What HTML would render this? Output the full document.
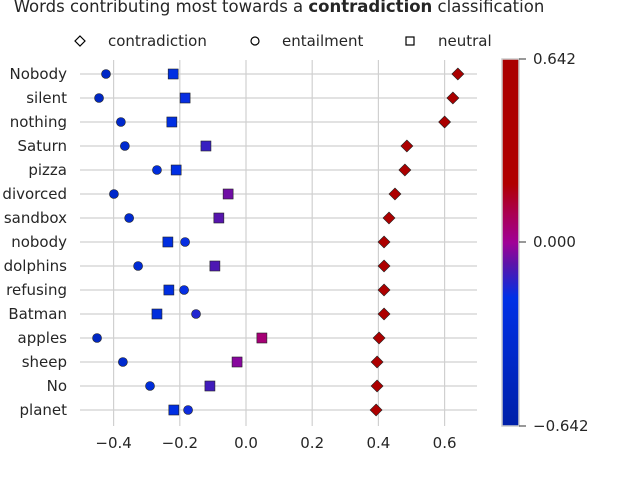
<!DOCTYPE html>
<html><head><meta charset="utf-8"><style>
body{margin:0;background:#fff}
svg{display:block;font-family:"DejaVu Sans","Liberation Sans",sans-serif}
</style></head><body>
<svg id="chart" width="640" height="480" viewBox="0 0 640 480">
<defs><linearGradient id="cmap" x1="0" y1="1" x2="0" y2="0">
<stop offset="0" stop-color="#0020a8"/><stop offset="0.35" stop-color="#0030e6"/>
<stop offset="0.44" stop-color="#5a14aa"/><stop offset="0.5" stop-color="#a00096"/>
<stop offset="0.58" stop-color="#aa0050"/><stop offset="0.66" stop-color="#b00000"/>
<stop offset="1" stop-color="#aa0000"/></linearGradient></defs>
<text x="279" y="12" text-anchor="middle" font-size="16.5" fill="#262626">Words contributing most towards a <tspan font-weight="bold">contradiction</tspan> classification</text>
<g id="legend" font-size="15" fill="#262626">
<g><path d="M80 36 L85 41 L80 46 L75 41Z" fill="#fff" stroke="#000" stroke-width="1.2"/><text x="108" y="46">contradiction</text></g>
<g><circle cx="255" cy="41" r="4" fill="#fff" stroke="#000" stroke-width="1.2"/><text x="282" y="46">entailment</text></g>
<g><rect x="406" y="37" width="8" height="8" fill="#fff" stroke="#000" stroke-width="1.2"/><text x="438" y="46">neutral</text></g>
</g>
<g id="grid"></g><g id="marks"></g><g id="axes" font-size="15" fill="#262626"></g>
<g>
<rect x="502" y="59" width="17" height="367" fill="url(#cmap)" stroke="#ccc" stroke-width="1.5"/>
<g font-size="15" fill="#262626" stroke="none">
<line x1="519" y1="59" x2="526" y2="59" stroke="#333"/><text x="533" y="64">0.642</text>
<line x1="519" y1="242" x2="526" y2="242" stroke="#333"/><text x="533" y="247">0.000</text>
<line x1="519" y1="426" x2="526" y2="426" stroke="#333"/><text x="533" y="431">−0.642</text>
</g></g>
</svg>
<script>
const words=["Nobody","silent","nothing","Saturn","pizza","divorced","sandbox","nobody","dolphins","refusing","Batman","apples","sheep","No","planet"];
const contradiction=[0.64,0.625,0.60,0.486,0.48,0.45,0.432,0.417,0.417,0.417,0.417,0.402,0.396,0.396,0.393];
const entailment=[-0.423,-0.444,-0.378,-0.366,-0.269,-0.399,-0.353,-0.184,-0.326,-0.187,-0.151,-0.45,-0.372,-0.29,-0.175];
const neutral=[-0.22,-0.184,-0.224,-0.121,-0.211,-0.054,-0.082,-0.236,-0.094,-0.233,-0.269,0.048,-0.027,-0.109,-0.218];
const xTicks=[-0.4,-0.2,0.0,0.2,0.4,0.6];
const xTickLabels=["−0.4","−0.2","0.0","0.2","0.4","0.6"];
const NS="http://www.w3.org/2000/svg";
const X=v=>246+v*331, Y=i=>74+i*24;
const stops=[[-0.642,[0,32,168]],[-0.193,[0,48,230]],[-0.077,[90,20,170]],[0,[160,0,150]],[0.103,[170,0,80]],[0.206,[176,0,0]],[0.642,[170,0,0]]];
function col(v){v=Math.max(-0.642,Math.min(0.642,v));for(let k=1;k<stops.length;k++){if(v<=stops[k][0]){const a=stops[k-1],b=stops[k],t=(v-a[0])/(b[0]-a[0]);return "rgb("+a[1].map((c,j)=>Math.round(c+(b[1][j]-c)*t)).join(",")+")";}}return "rgb(170,0,0)";}
function mk(tag,at,par){const e=document.createElementNS(NS,tag);for(const k in at)e.setAttribute(k,at[k]);document.getElementById(par).appendChild(e);return e;}
xTicks.forEach((t,i)=>{
 const g=mk("line",{x1:X(t),x2:X(t),y1:60,y2:426,stroke:"#d0d0d0","stroke-width":1.2},"grid");
 
 
 const tx=mk("text",{x:X(t),y:448,"text-anchor":"middle"},"axes");tx.textContent=xTickLabels[i];
 
 
});
words.forEach((w,i)=>{
 const g=mk("line",{x1:80,x2:477,y1:Y(i),y2:Y(i),stroke:"#d0d0d0","stroke-width":1.2},"grid");
 
 
 const tx=mk("text",{x:67,y:Y(i)+5,"text-anchor":"end"},"axes");tx.textContent=w;
 
 
 const y=Y(i);
 let x=X(contradiction[i]);
 const d=mk("path",{d:`M${x} ${y-6}L${x+6} ${y}L${x} ${y+6}L${x-6} ${y}Z`,fill:col(contradiction[i]),stroke:"#222","stroke-width":0.6},"marks");
 
 
 x=X(entailment[i]);
 const c=mk("circle",{cx:x,cy:y,r:4.5,fill:col(entailment[i]),stroke:"#222","stroke-width":0.6},"marks");
 
 
 x=X(neutral[i]);
 const s=mk("rect",{x:x-5,y:y-5,width:10,height:10,fill:col(neutral[i]),stroke:"#222","stroke-width":0.6},"marks");
 
 
});
</script>
</body></html>
